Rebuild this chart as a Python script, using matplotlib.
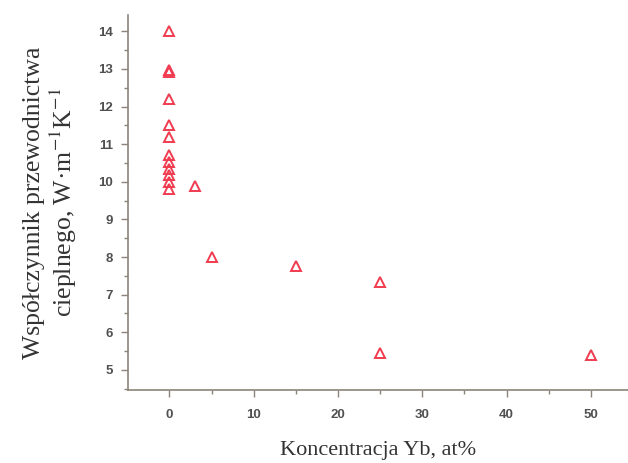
import matplotlib
matplotlib.use("Agg")
import matplotlib.pyplot as plt
from matplotlib.ticker import MultipleLocator

plt.rcParams["mathtext.fontset"] = "stix"

# stężenie Yb [at%] i przewodność cieplna [W/(m K)]
conc = [0, 0, 0, 0, 0, 0, 0, 0, 0, 0, 0, 0, 3, 5, 15, 25, 25, 50]
kappa = [14.0, 12.97, 12.92, 12.2, 11.5, 11.2, 10.72, 10.52, 10.35, 10.18, 10.0, 9.82,
         9.9, 8.0, 7.75, 7.35, 5.45, 5.4]

xticks = [0, 10, 20, 30, 40, 50]
yticks = [5, 6, 7, 8, 9, 10, 11, 12, 13, 14]

axcol = "#8c8478"
fig = plt.figure(figsize=(6.28, 4.63), dpi=100)
ax = fig.add_axes([0.204, 0.158, 0.796, 0.81])

ax.plot(conc, kappa, linestyle="none", marker="^", markersize=7.5,
        markerfacecolor="none", markeredgecolor="#f03c50", markeredgewidth=1.4)

ax.set_xlim(-4.9, 54.4)
ax.set_ylim(4.47, 14.44)
ax.set_xticks(xticks)
ax.set_yticks(yticks)
ax.xaxis.set_minor_locator(MultipleLocator(5))
ax.yaxis.set_minor_locator(MultipleLocator(0.5))

for s in ["top", "right"]:
    ax.spines[s].set_visible(False)
for s in ["left", "bottom"]:
    ax.spines[s].set_color(axcol)
    ax.spines[s].set_linewidth(1.2)

ax.tick_params(which="both", direction="out", color=axcol, width=1.0)
ax.tick_params(which="major", length=5)
ax.tick_params(which="minor", length=3)
ax.tick_params(axis="x", pad=9)
ax.tick_params(axis="y", pad=6)
for lab in ax.get_xticklabels() + ax.get_yticklabels():
    lab.set_fontfamily("Liberation Sans")
    lab.set_fontweight("bold")
    lab.set_fontsize(9.5)
    lab.set_color("#505050")

ax.set_xlabel("Koncentracja Yb, at%", family="Liberation Serif", fontsize=16,
              color="#333333", labelpad=14)
ax.set_ylabel("Współczynnik przewodnictwa\ncieplnego, W·m$^{-1}$K$^{-1}$",
              family="Liberation Serif", fontsize=18.5, color="#333333",
              labelpad=14, linespacing=1.1)

fig.savefig("out.png", dpi=100)
